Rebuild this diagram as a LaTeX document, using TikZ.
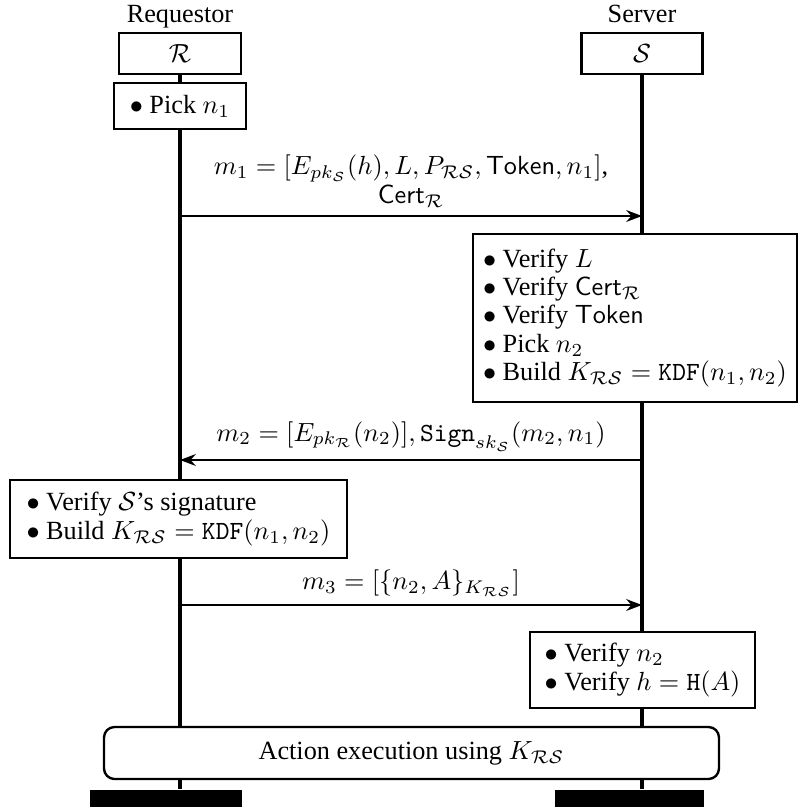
\documentclass[tikz,border=0pt]{standalone}
\usepackage{fontspec}
\setmainfont{Liberation Serif}
\usetikzlibrary{arrows.meta}
\begin{document}
\begin{tikzpicture}[x=0.381pt,y=-0.381pt,
  every node/.style={font=\fontsize{10}{10.8}\selectfont},
  box/.style={draw,line width=0.9pt,fill=white,inner sep=0pt,align=left},
  life/.style={line width=1.2pt},
  msg/.style={line width=0.85pt,-{Stealth[length=6pt,width=4.5pt]}},
  lbl/.style={align=center,above,inner sep=3pt},
  bar/.style={fill=black,inner sep=0pt}
]
\useasboundingbox (0,0) rectangle (800,807);

% headers
\node[anchor=base] (lblR) at (180,22) {Requestor};
\node[anchor=base] (lblS) at (642,22) {Server};
\node[box,align=center,minimum width=122*0.381pt,minimum height=41*0.381pt] (R) at (180,53.5) {$\mathcal{R}$};
\node[box,align=center,minimum width=121*0.381pt,minimum height=41*0.381pt] (S) at (642,53.5) {$\mathcal{S}$};

% requestor boxes
\node[box,minimum width=132*0.381pt,minimum height=46*0.381pt] (pick1) at (180,106) {$\bullet$ Pick $n_1$};
\node[box,minimum width=337*0.381pt,minimum height=78*0.381pt] (verS) at (178.5,519)
  {$\bullet$ Verify $\mathcal{S}$'s signature\\ $\bullet$ Build $K_{\mathcal{RS}} = \mathtt{KDF}(n_1, n_2)$};

% server boxes
\node[box,minimum width=324*0.381pt,minimum height=168*0.381pt] (srv1) at (635,318)
  {$\bullet$ Verify $L$\\ $\bullet$ Verify $\mathsf{Cert}_{\mathcal{R}}$\\ $\bullet$ Verify $\mathsf{Token}$\\ $\bullet$ Pick $n_2$\\ $\bullet$ Build $K_{\mathcal{RS}} = \mathtt{KDF}(n_1, n_2)$};
\node[box,minimum width=225*0.381pt,minimum height=76*0.381pt] (srv2) at (642.5,670)
  {$\bullet$ Verify $n_2$\\ $\bullet$ Verify $h = \mathtt{H}(A)$};

% action
\node[box,align=center,rounded corners=4pt,minimum width=615*0.381pt,minimum height=52*0.381pt] (act) at (411.5,753)
  {Action execution using $K_{\mathcal{RS}}$};

% end bars
\node[bar,minimum width=152*0.381pt,minimum height=18*0.381pt] (endR) at (166,799) {};
\node[bar,minimum width=149*0.381pt,minimum height=18*0.381pt] (endS) at (629.5,799) {};

% lifelines
\draw[life] (R.south) -- (pick1.north);
\draw[life] (pick1.south) -- (pick1.south |- verS.north);
\draw[life] (pick1.south |- verS.south) -- (pick1.south |- act.north);
\draw[life] (pick1.south |- act.south) -- (pick1.south |- endR.north);
\draw[life] (S.south) -- (S.south |- srv1.north);
\draw[life] (S.south |- srv1.south) -- (S.south |- srv2.north);
\draw[life] (S.south |- srv2.south) -- (S.south |- act.north);
\draw[life] (S.south |- act.south) -- (S.south |- endS.north);

% messages
\coordinate (m1a) at (180,216);
\coordinate (m1b) at (642,216);
\draw[msg] (m1a) -- node[lbl]{$m_1 = [E_{pk_{\mathcal{S}}}(h), L, P_{\mathcal{RS}}, \mathsf{Token}, n_1]$,\\ $\mathsf{Cert}_{\mathcal{R}}$} (m1b);
\coordinate (m2a) at (642,460);
\coordinate (m2b) at (180,460);
\draw[msg] (m2a) -- node[lbl]{$m_2 = [E_{pk_{\mathcal{R}}}(n_2)], \mathtt{Sign}_{sk_{\mathcal{S}}}(m_2, n_1)$} (m2b);
\coordinate (m3a) at (180,605);
\coordinate (m3b) at (642,605);
\draw[msg] (m3a) -- node[lbl]{$m_3 = [\{n_2, A\}_{K_{\mathcal{RS}}}]$} (m3b);
\end{tikzpicture}
\end{document}
